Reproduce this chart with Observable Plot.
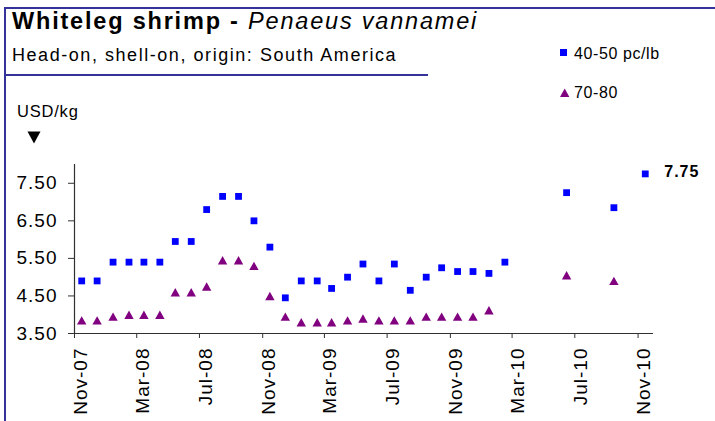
<!DOCTYPE html>
<html><head><meta charset="utf-8">
<script src="https://cdn.jsdelivr.net/npm/d3@7"></script>
<script src="https://cdn.jsdelivr.net/npm/@observablehq/plot@0.6"></script>
<style>
body{margin:0;background:#fff;}
#wrap{position:relative;width:715px;height:421px;overflow:hidden;font-family:"Liberation Sans",Arial,sans-serif;}
#head{display:block;}
#chart svg{display:block;}
#chart svg text{letter-spacing:1px;}
.bl{position:absolute;background:#333399;}
</style></head>
<body>
<div id="wrap">
<svg id="head" width="715" height="150" font-family="Liberation Sans, Arial, sans-serif">
  <text x="12" y="29" font-size="23.5" font-weight="bold" letter-spacing="1.8">Whiteleg shrimp - <tspan font-style="italic" font-weight="normal">Penaeus vannamei</tspan></text>
  <text x="12" y="61" font-size="18" letter-spacing="1.55">Head-on, shell-on, origin: South America</text>
  <line x1="5" x2="428" y1="75" y2="75" stroke="#333399" stroke-width="2"/>
  <rect x="560" y="49" width="7" height="7" fill="#0000ff"/>
  <text x="574" y="58.5" font-size="16" letter-spacing="0.6">40-50 pc/lb</text>
  <polygon points="560,97 569.4,97 564.7,88.6" fill="#800080"/>
  <text x="574" y="98" font-size="16" letter-spacing="0.6">70-80</text>
  <text x="17" y="117" font-size="16.5" letter-spacing="0.8">USD/kg</text>
  <polygon points="27.5,131.5 40.5,131.5 34,143.5" fill="#000"/>
</svg>
<div id="chart"></div>
<div class="bl" style="left:4px;top:7px;width:2px;height:414px;"></div>
<div class="bl" style="left:4px;top:7px;width:711px;height:2px;"></div>
</div>
<script>
// Monthly observations, Nov-07 .. Nov-10
const months = ["Nov-07","Dec-07","Jan-08","Feb-08","Mar-08","Apr-08","May-08","Jun-08","Jul-08","Aug-08","Sep-08","Oct-08",
  "Nov-08","Dec-08","Jan-09","Feb-09","Mar-09","Apr-09","May-09","Jun-09","Jul-09","Aug-09","Sep-09","Oct-09",
  "Nov-09","Dec-09","Jan-10","Feb-10","Mar-10","Apr-10","May-10","Jun-10","Jul-10","Aug-10","Sep-10","Oct-10","Nov-10"];
const size4050 = [4.90,4.90,5.40,5.40,5.40,5.40,5.95,5.95,6.80,7.15,7.15,6.50,
  5.80,4.45,4.90,4.90,4.70,5.00,5.35,4.90,5.35,4.65,5.00,5.25,
  5.15,5.15,5.10,5.40,null,null,null,7.25,null,null,6.85,null,7.75];
const size7080 = [3.85,3.85,3.95,4.00,4.00,4.00,4.60,4.60,4.75,5.45,5.45,5.30,
  4.50,3.95,3.80,3.80,3.80,3.85,3.90,3.85,3.85,3.85,3.95,3.95,
  3.95,3.95,4.12,null,null,null,null,5.05,null,null,4.90,null,null];
const xTickLabels = ["Nov-07","Mar-08","Jul-08","Nov-08","Mar-09","Jul-09","Nov-09","Mar-10","Jul-10","Nov-10"];
const yTicks = [3.50,4.50,5.50,6.50,7.50];

const parse = d3.utcParse("%b-%y");
const mid = s => { const d = parse(s); return new Date(Date.UTC(d.getUTCFullYear(), d.getUTCMonth(), 15)); };
const rowsA = months.map((m,i)=>({date: mid(m), v: size4050[i]})).filter(d=>d.v!=null);
const rowsB = months.map((m,i)=>({date: mid(m), v: size7080[i]})).filter(d=>d.v!=null);
const xTicks = xTickLabels.map(parse);
const xStart = parse(months[0]);
const xEnd = d3.utcMonth.offset(parse(months[months.length-1]), 1);
const lastA = rowsA[rowsA.length-1];

const triangle = {draw(ctx, size){ const w = 9.4, h = 8.4; ctx.moveTo(0,-h/2); ctx.lineTo(w/2,h/2); ctx.lineTo(-w/2,h/2); ctx.closePath(); }};
const square = {draw(ctx, size){ const s = 6.8; ctx.rect(-s/2,-s/2,s,s); }};

const axisColor = "#303030";
const chart = Plot.plot({
  width: 715, height: 271,
  marginLeft: 74, marginRight: 62, marginTop: 14, marginBottom: 88,
  x: {type: "utc", domain: [xStart, xEnd]},
  y: {domain: [3.5, 8.0]},
  style: {fontFamily: "Liberation Sans, Arial, sans-serif", color: "#000", background: "transparent", overflow: "visible"},
  marks: [
    Plot.axisY({ticks: yTicks, tickFormat: d => d.toFixed(2), tickSize: 6, tickPadding: 11, fontSize: 19, stroke: axisColor, fill: "#000", label: null}),
    // tick marks only
    Plot.axisX({ticks: xTicks, tickFormat: () => "", tickSize: 5, stroke: axisColor, label: null}),
    // rotated tick labels, nudged right like the original
    Plot.axisX({ticks: xTicks, tickFormat: d3.utcFormat("%b-%y"), tickRotate: -90, tickSize: 0, tickPadding: 14, dx: 6, fontSize: 19, fill: "#000", label: null}),
    Plot.ruleX([xStart], {stroke: axisColor, strokeWidth: 1.2}),
    Plot.ruleY([3.5], {stroke: axisColor, strokeWidth: 1.2}),
    Plot.dot(rowsA, {x: "date", y: "v", symbol: square, fill: "#0000ff", stroke: null}),
    Plot.dot(rowsB, {x: "date", y: "v", symbol: triangle, fill: "#800080", stroke: null}),
    Plot.text([lastA], {x: "date", y: "v", text: d => d.v.toFixed(2), dx: 19, dy: -2, textAnchor: "start", fontWeight: "bold", fontSize: 16, fill: "#000"})
  ]
});
document.getElementById("chart").appendChild(chart);
</script>
</body></html>
